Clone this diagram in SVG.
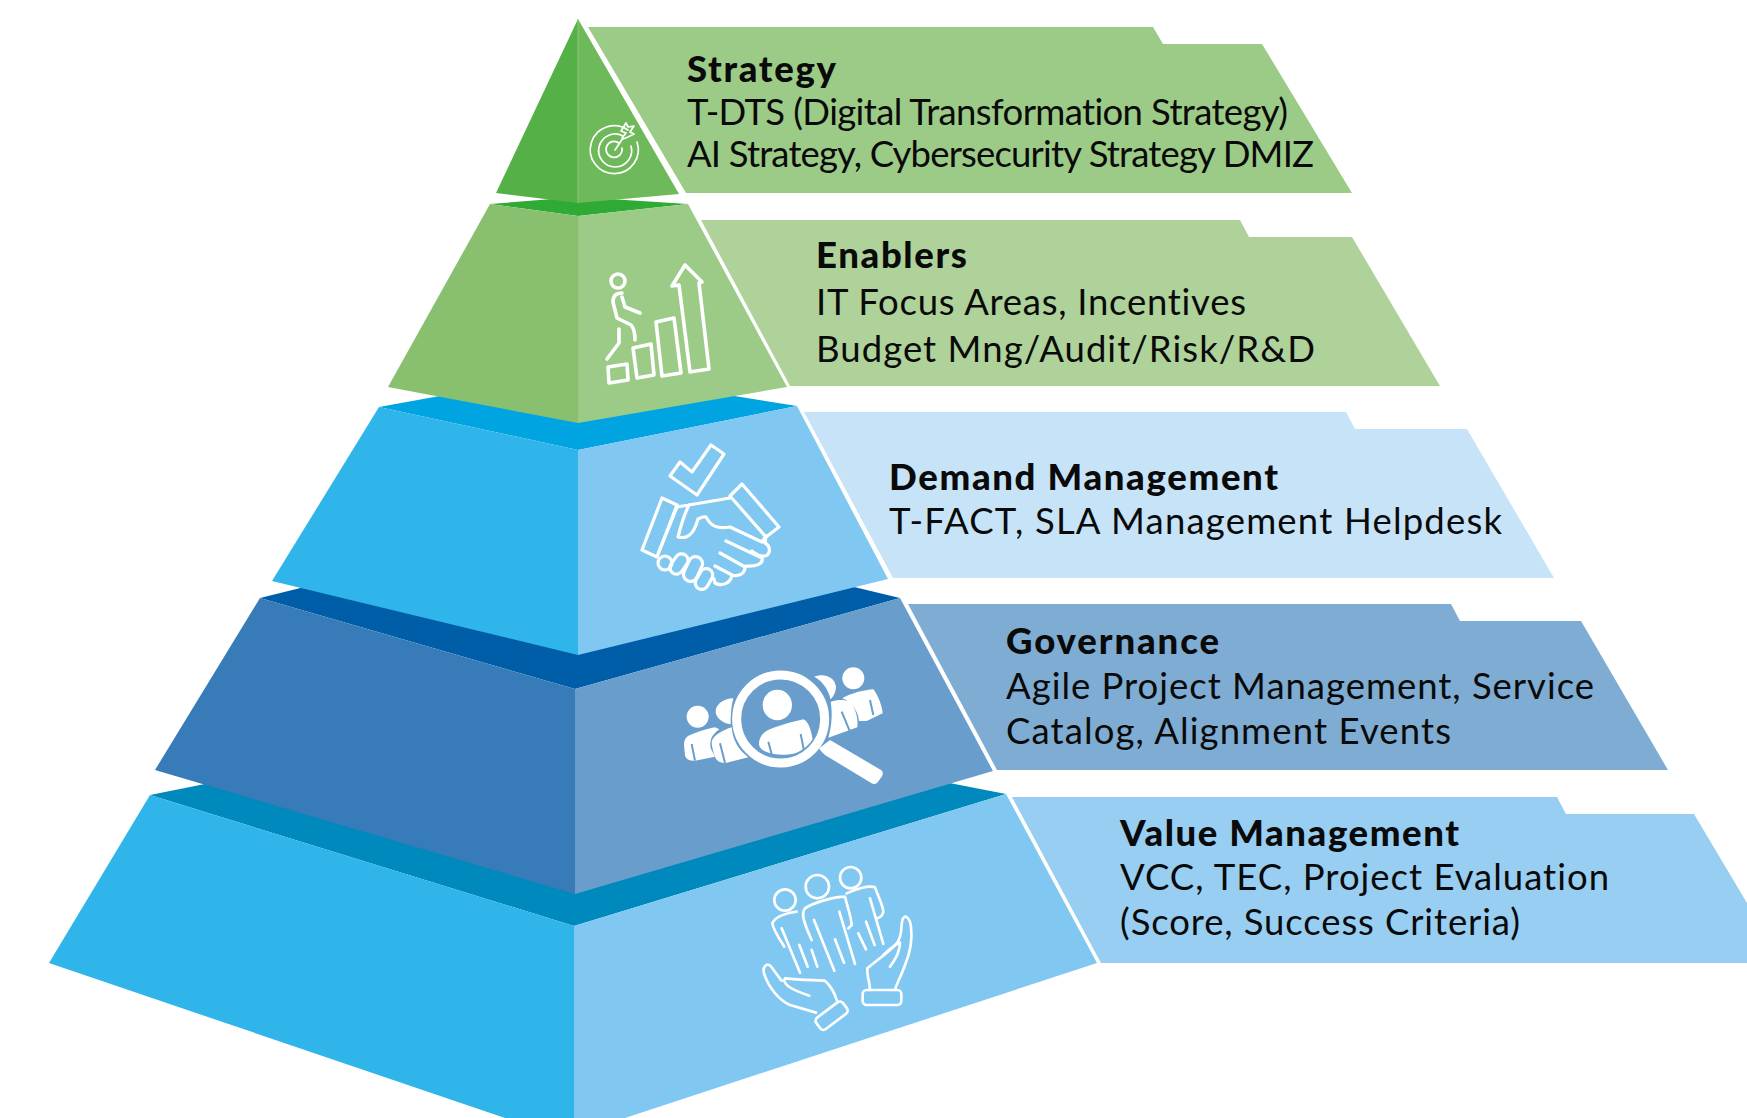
<svg xmlns="http://www.w3.org/2000/svg" width="1747" height="1118" viewBox="0 0 1747 1118">
<style>
text{font-family:"Lato","Noto Sans","Liberation Sans",sans-serif;fill:#0a0a0a;font-size:36.5px;font-variant-ligatures:none}
.t{font-weight:900;font-size:36.5px}
.i{fill:none;stroke:#fff;stroke-width:3.2;stroke-linecap:round;stroke-linejoin:round}
.f{fill:#fff}
.s{fill:none;stroke:#699ecc;stroke-width:6}
</style>
<rect width="1747" height="1118" fill="#fff"/>
<g id="value-management">
<polygon points="1012,797 1557,797 1566,814 1694,814 1747,903 1747,963 1101,963" fill="#98cef2"/>
<polygon points="150,795 574,710 1006,794 574,926" fill="#0089bc"/>
<polygon points="150,795 574,926 574,1118 505,1118 49,963" fill="#2fb5ea"/>
<polygon points="574,926 1006,794 1097,963 625,1118 574,1118" fill="#80c8f1"/>
<g class="i" transform="translate(740 850) scale(.3333)" style="stroke-width:8">
<circle cx="135" cy="150" r="32"/><circle cx="232" cy="110" r="35"/><circle cx="332" cy="83" r="32"/>
<path d="M170,185C140,188 105,200 97,220C100,240 120,270 133,290M125,235L180,368M178,285L203,350M215,300L232,350"/>
<path d="M315,140C280,140 215,160 195,175C183,190 190,215 215,270M222,210L283,362M285,268L312,338M298,185L345,342M315,140C322,170 335,205 335,225L325,235"/>
<path d="M320,130C345,118 385,105 405,112C415,140 430,170 430,185C428,195 420,203 410,205M390,145L430,282M378,215L404,285M355,250L378,298"/>
<path d="M228,488L150,465C115,450 85,410 72,370C67,350 80,338 92,348C105,365 115,380 125,392"/>
<path d="M135,385C180,390 225,390 255,392C270,405 285,430 290,450M135,385C125,400 150,418 208,437"/>
<rect x="0" y="0" width="100" height="43" rx="12" transform="translate(222 510) rotate(-37)"/>
<rect x="368" y="420" width="116" height="45" rx="12"/>
<path d="M390,420C390,400 380,375 382,355C410,330 450,305 470,280C490,255 480,230 488,208C495,190 510,205 513,230C518,270 510,310 495,345C485,375 470,400 465,420"/>
<path d="M450,350C465,330 480,300 480,278C465,285 445,300 430,315"/>
</g>
</g>
<g id="governance">
<polygon points="908,604 1451,604 1460,621 1581,621 1668,770 997,770" fill="#7facd2"/>
<polygon points="260,598 575,520 900,598 575,689" fill="#005ea8"/>
<polygon points="260,598 575,689 575,894 155,770" fill="#377bb8"/>
<polygon points="575,689 900,598 993,771 575,894" fill="#699ecc"/>
<g transform="translate(660 640) scale(.3333)">
<circle class="f" cx="113" cy="230" r="33"/>
<path class="f" d="M72,315C72,300 78,290 90,285C115,275 145,265 165,262L178,268C155,285 148,300 152,325L165,350L105,362C90,362 78,360 75,345Z"/>
<path class="f" d="M220,175C190,175 165,195 167,218C170,235 190,250 212,253C212,225 213,200 220,175Z"/>
<path class="f" d="M155,305C160,285 190,270 215,262C218,300 235,330 265,352L200,368C185,370 170,365 165,350C160,335 155,320 155,305Z"/>
<path class="s" d="M95,312L105,362M180,310L195,368"/>
<path class="f" d="M463,110C490,98 525,110 528,140C528,155 520,170 512,178C505,150 490,125 463,110Z"/>
<path class="f" d="M512,186C540,175 570,180 578,195C590,215 595,245 592,262L505,293C515,260 518,220 512,186Z"/>
<circle class="f" cx="580" cy="115" r="33"/>
<path class="f" d="M547,175C570,160 615,150 640,148C655,165 668,205 668,220L620,243L597,243C595,215 575,185 547,175Z"/>
<path class="s" d="M545,215L570,275M630,180L640,225"/>
<ellipse class="f" cx="352" cy="195" rx="44" ry="46"/>
<path class="f" d="M297,312C297,295 305,280 325,270C360,255 400,245 430,238C445,245 452,265 458,298C450,312 430,330 410,338C380,348 340,345 318,335C305,330 297,322 297,312Z"/>
<path class="s" d="M325,305L335,342M422,282L432,332"/>
<circle cx="362" cy="237" r="132" fill="none" stroke="#fff" stroke-width="27"/>
<path class="f" d="M478,325L510,300L663,390C670,395 670,403 665,410L652,428C647,433 640,433 635,430L495,345C488,338 480,332 478,325Z"/>
</g>
</g>
<g id="demand-management">
<polygon points="804,412 1346,412 1355,429 1467,429 1554,578 893,578" fill="#c7e3f8"/>
<polygon points="379,407 578,371 797,406 578,450" fill="#00a4e1"/>
<polygon points="379,407 578,450 578,655 272,581" fill="#2fb5ea"/>
<polygon points="578,450 797,406 888,579 578,655" fill="#80c8f1"/>
<g class="i">
<polygon points="680,462 692,472 711,445 724,454 697,495 670,476"/>
<polygon points="662,498 677,505 657,557 642,550"/>
<polygon points="742,484 779,527 766,537 730,496"/>
<path d="M677,507L730,498M677,507L658,554M689,505C684,515 681,525 678,537C690,540 695,530 698,519C702,517 704,516 706,517C711,526 716,529 730,527L762,542L766,536L765,543C772,547 770,557 763,556C757,556 755,553 752,551M726,541L762,558C764,564 755,567 746,566M720,553L745,567C745,574 738,577 732,575L715,566M732,576C730,583 722,587 715,583L714,579"/>
<circle cx="665" cy="563" r="7"/>
<rect x="-11" y="-6.5" width="22" height="13" rx="6.5" transform="translate(679 564) rotate(-55)"/>
<rect x="-13" y="-7" width="26" height="14" rx="7" transform="translate(693 569) rotate(-65)"/>
<rect x="-11" y="-6.5" width="22" height="13" rx="6.5" transform="translate(704 579) rotate(-60)"/>
</g>
</g>
<g id="enablers">
<polygon points="701,220 1240,220 1249,237 1352,237 1440,386 790,386" fill="#aed29a"/>
<polygon points="490,204 578,197 688,204 578,216" fill="#2eaa35"/>
<polygon points="490,204 578,216 578,423 388,387" fill="#88c070"/>
<polygon points="578,216 688,204 787,387 578,423" fill="#9ccb87"/>
<g class="i" style="stroke-width:3.6">
<circle cx="618" cy="281" r="7"/>
<path d="M622,293C616,293 613,296 613,302L617,318L631,325C634,328 635,335 635,340M622,297L625,307L640,313M619,329L619,343L607,359"/>
<polygon points="608,367 627,364 628,380 609,383"/>
<polygon points="633,348 651,344 654,375 637,378"/>
<polygon points="656,322 674,318 681,373 662,376"/>
<polygon points="690,372 709,369 699,283 702,282 685,265 672,286 679,285"/>
</g>
</g>
<g id="strategy">
<polygon points="588,27 1153,27 1163,44 1262,44 1352,193 686,193" fill="#9ccb87"/>
<polygon points="578,19 578,203 496,193" fill="#55b047"/>
<polygon points="578,19 679,194 578,203" fill="#6eb95a"/>
<line x1="578" y1="19" x2="578" y2="203" stroke="#9ccb87" stroke-width="0.8"/>
<g class="i" style="stroke-width:1.7">
<path d="M628,130A24,24 0 1 0 637,142"/>
<path d="M623,136A16.5,16.5 0 1 0 631,146"/>
<path d="M619,143A8,8 0 1 0 622,148"/>
<path d="M615,150L623,138"/>
<path d="M622,138L626,133L621,131L626,123L628,127L634,126L630,132L634,134L628,137L623,139Z"/>
</g>
</g>
<g id="labels">
<text class="t" x="687" y="82" textLength="149">Strategy</text>
<text x="687" y="125" textLength="601">T-DTS (Digital Transformation Strategy)</text>
<text x="687" y="167" textLength="627">AI Strategy, Cybersecurity Strategy DMIZ</text>
<text class="t" x="816" y="268" textLength="151">Enablers</text>
<text x="816" y="315" textLength="430">IT Focus Areas, Incentives</text>
<text x="816" y="362" textLength="499">Budget Mng/Audit/Risk/R&amp;D</text>
<text class="t" x="889" y="490" textLength="389">Demand Management</text>
<text x="889" y="534" textLength="613">T-FACT, SLA Management Helpdesk</text>
<text class="t" x="1006" y="654" textLength="213">Governance</text>
<text x="1006" y="699" textLength="588">Agile Project Management, Service</text>
<text x="1006" y="744" textLength="445">Catalog, Alignment Events</text>
<text class="t" x="1120" y="846" textLength="339">Value Management</text>
<text x="1120" y="890" textLength="489">VCC, TEC, Project Evaluation</text>
<text x="1120" y="935" textLength="400">(Score, Success Criteria)</text>
</g>
</svg>
